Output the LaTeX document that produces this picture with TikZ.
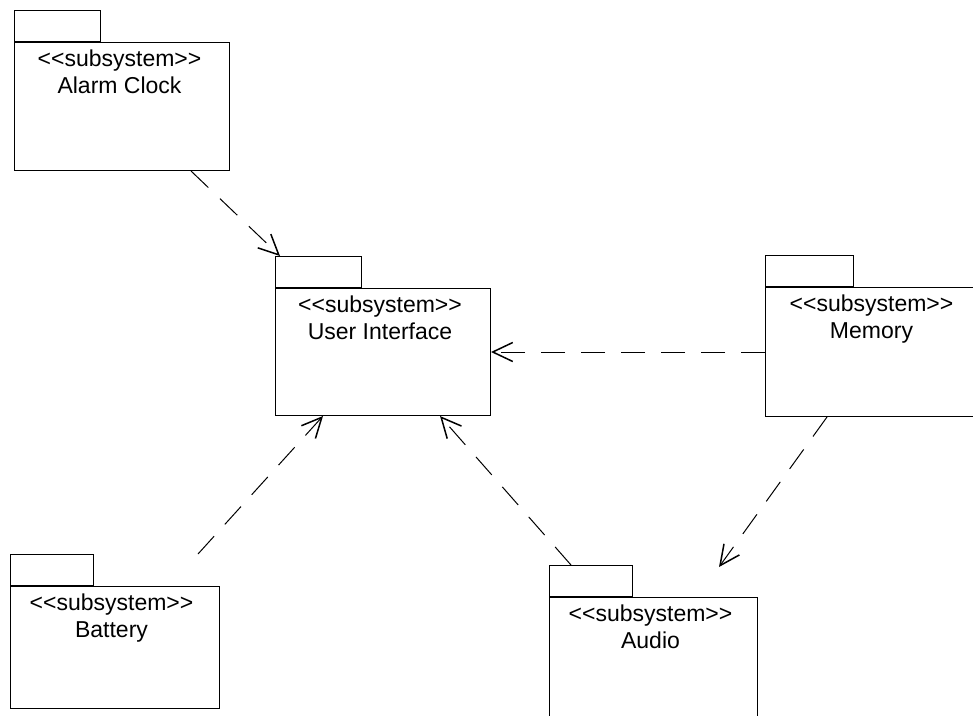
\documentclass[tikz,border=0pt]{standalone}
\usepackage{fontspec}
\setmainfont{Liberation Sans}
\usetikzlibrary{arrows.meta,calc}
\tikzset{
  tabbox/.style={draw, line width=1pt, inner sep=0pt, minimum height=31pt},
  bodybox/.style={draw, line width=1pt, inner sep=0pt, fill=white},
  lbl/.style={anchor=base, inner sep=0pt, font=\fontsize{23}{28}\selectfont},
  dep/.style={line width=1pt, dash pattern=on 24pt off 16pt,
    -{Straight Barb[length=20pt,width=19pt,line width=1.5pt]}}
}
\newcommand\pkgbox[8]{% name, x, y(body top), w, h, tabw, label, text shift
  \node[tabbox, minimum width=#6pt, anchor=south west] (#1tab) at (#2,#3) {};
  \node[bodybox, minimum width=#4pt, minimum height=#5pt, anchor=north west] (#1) at (#2,#3) {};
  \node[lbl] (#1st) at ($(#1.north)+(#8,24)$) {<\kern0pt<subsystem>\kern0pt>};
  \node[lbl] (#1nm) at ($(#1.north)+(#8,51)$) {#7};
}
\begin{document}
\begin{tikzpicture}[x=1pt,y=-1pt]
\useasboundingbox (0,0) rectangle (973,715);
\pkgbox{ac}{14}{42}{215}{128}{86}{Alarm Clock}{-2.5}
\pkgbox{ui}{275}{288}{215}{127}{86}{User Interface}{-3}
\pkgbox{mem}{765}{287}{215}{129}{88}{Memory}{-1.5}
\pkgbox{au}{549}{597}{208}{140}{83}{Audio}{-3}
\pkgbox{bat}{10}{586}{209}{122}{83}{Battery}{-3.5}
\draw[dep] ($(ac.south west)+(177,0)$) -- ($(uitab.north west)+(5,0)$);
\draw[dep] ($(mem.north west)+(0,65)$) -- ($(ui.north east)+(0,64)$);
\draw[dep] ($(mem.south west)+(62,0)$) -- ($(au.north west)+(170,-30)$);
\draw[dep] ($(autab.north west)+(22,0)$) -- ($(ui.south west)+(165,0)$);
\draw[dep] ($(battab.north west)+(188,0)$) -- ($(ui.south west)+(48,0)$);
\end{tikzpicture}
\end{document}
